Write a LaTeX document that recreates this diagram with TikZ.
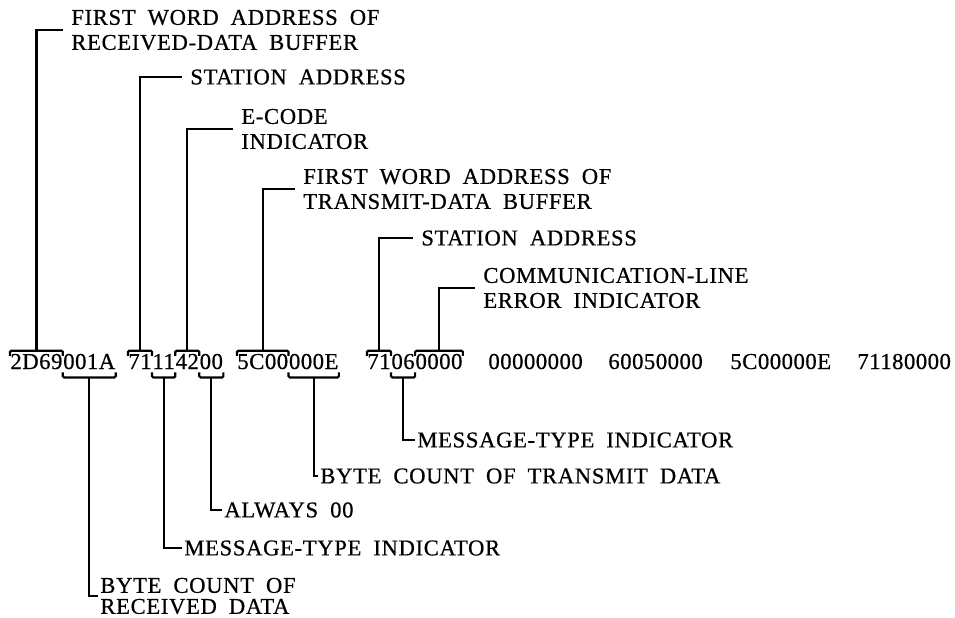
\documentclass[tikz,border=0pt]{standalone}
\usepackage{fontspec}
\setmainfont{Liberation Serif}
\newfontfamily\lblfam{Liberation Serif}[LetterSpace=3, WordSpace=1.9, FakeBold=0.6]
\newfontfamily\hexfam{Liberation Serif}[LetterSpace=2, FakeBold=0.6]
\usepackage{tikz}
\usetikzlibrary{positioning, calc}

\newcommand\lblfont{\lblfam\fontsize{11.3pt}{12.5pt}\selectfont}
\newcommand\hexfont{\hexfam\fontsize{11.4pt}{12.5pt}\selectfont}

% bracket over / under one field of the dump line
\newcommand\overbrk[1]{%
  \draw[brk] ([yshift=-2.5pt]#1.north west) -- (#1.north west)
    -- (#1.north east) -- ([yshift=-2.5pt]#1.north east);}
\newcommand\underbrk[1]{%
  \draw[brk] ([yshift=2.5pt]#1.south west) -- (#1.south west)
    -- (#1.south east) -- ([yshift=2.5pt]#1.south east);}

\begin{document}
\begin{tikzpicture}[x=0.5pt, y=-0.5pt]

\tikzset{
  hex/.style={font=\hexfont, inner xsep=0pt, inner ysep=0pt,
              text height=8.9pt, text depth=4pt, anchor=base west},
  lbltop/.style={font=\lblfont, align=left, anchor=west,
                 inner xsep=4pt, inner ysep=0pt},
  lblbot/.style={font=\lblfont, align=left, anchor=west,
                 inner xsep=1pt, inner ysep=0pt},
  lead/.style={line width=1.1pt},
  brk/.style={line width=1.1pt, rounded corners=0.6pt},
}

\def\BL{369}  % baseline of the dump line

\useasboundingbox (0,0) rectangle (955,617);

% ---- Dump line -------------------------------------------------------------
\node[hex] (rxa)  at (10,\BL)     {2D69};
\node[hex] (rxbc) at (rxa.base east) {001A};

\node[hex] (rsta) at (128,\BL)     {71};
\node[hex] (rmt)  at (rsta.base east) {11};
\node[hex] (recd) at (rmt.base east)  {42};
\node[hex] (rzz)  at (recd.base east) {00};

\node[hex] (txa)  at (237,\BL)     {5C00};
\node[hex] (txbc) at (txa.base east) {000E};

\node[hex] (tsta) at (367,\BL)     {71};
\node[hex] (tmt)  at (tsta.base east) {06};
\node[hex] (terr) at (tmt.base east)  {0000};

\node[hex] (w5) at (488,\BL) {00000000};
\node[hex] (w6) at (608,\BL) {60050000};
\node[hex] (w7) at (730,\BL) {5C00000E};
\node[hex] (w8) at (857,\BL) {71180000};

% ---- Brackets --------------------------------------------------------------
\overbrk{rxa}  \underbrk{rxbc}
\overbrk{rsta} \underbrk{rmt} \overbrk{recd} \underbrk{rzz}
\overbrk{txa}  \underbrk{txbc}
\overbrk{tsta} \underbrk{tmt} \overbrk{terr}

% ---- Labels above ----------------------------------------------------------
\node[lbltop] (l-rxa)  at (63,30)   {FIRST WORD ADDRESS OF\\RECEIVED-DATA BUFFER};
\node[lbltop] (l-rsta) at (182,77)  {STATION ADDRESS};
\node[lbltop] (l-recd) at (233,129) {E-CODE\\INDICATOR};
\node[lbltop] (l-txa)  at (295,189) {FIRST WORD ADDRESS OF\\TRANSMIT-DATA BUFFER};
\node[lbltop] (l-tsta) at (413,238) {STATION ADDRESS};
\node[lbltop] (l-terr) at (475,288) {COMMUNICATION-LINE\\ERROR INDICATOR};

\draw[lead] (rxa.north)  |- (l-rxa.west);
\draw[lead] (rsta.north) |- (l-rsta.west);
\draw[lead] (recd.north) |- (l-recd.west);
\draw[lead] (txa.north)  |- (l-txa.west);
\draw[lead] (tsta.north) |- (l-tsta.west);
\draw[lead] (terr.north) |- (l-terr.west);

% ---- Labels below ----------------------------------------------------------
\node[lblbot] (l-tmt)  at (415,440) {MESSAGE-TYPE INDICATOR};
\node[lblbot] (l-txbc) at (318,476) {BYTE COUNT OF TRANSMIT DATA};
\node[lblbot] (l-rzz)  at (222,510) {ALWAYS 00};
\node[lblbot] (l-rmt)  at (182,548) {MESSAGE-TYPE INDICATOR};
\node[lblbot] (l-rxbc) at (98,596)  {BYTE COUNT OF\\[-2pt]RECEIVED DATA};

\draw[lead] (tmt.south)  |- (l-tmt.west);
\draw[lead] (txbc.south) |- (l-txbc.west);
\draw[lead] (rzz.south)  |- (l-rzz.west);
\draw[lead] (rmt.south)  |- (l-rmt.west);
\draw[lead] (rxbc.south) |- (l-rxbc.west);

\end{tikzpicture}
\end{document}
